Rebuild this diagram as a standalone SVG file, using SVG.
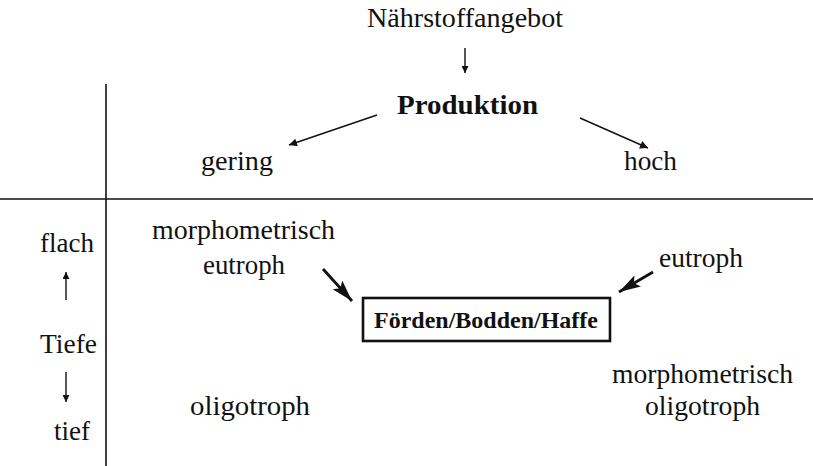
<svg xmlns="http://www.w3.org/2000/svg" width="813" height="466" viewBox="0 0 813 466">
<style>
text{font-family:"Liberation Serif","Times New Roman",serif;font-size:28px;fill:#111}
.b{font-weight:bold}
.rule{stroke:#111;stroke-width:1.6;fill:none}
.thin{stroke:#111;stroke-width:1.4;fill:none}
.thick{stroke:#111;stroke-width:2.8;fill:none}
</style>
<defs>
<marker id="ah" viewBox="0 0 10 10" refX="10" refY="5" markerWidth="11" markerHeight="8" markerUnits="userSpaceOnUse" orient="auto"><path d="M0,0 L10,5 L0,10 Z" fill="#111"/></marker>
<marker id="ahv" viewBox="0 0 10 10" refX="10" refY="5" markerWidth="12" markerHeight="7" markerUnits="userSpaceOnUse" orient="auto"><path d="M0,0 L10,5 L0,10 Z" fill="#111"/></marker>
<marker id="wedge" viewBox="0 0 20 12" refX="20" refY="6" markerWidth="24" markerHeight="13" markerUnits="userSpaceOnUse" orient="auto"><path d="M0,0 L20,6 L0,12 L4,6 Z" fill="#111"/></marker>
</defs>
<g id="axes">
<line class="rule" x1="106" y1="84" x2="106" y2="466"/>
<line class="rule" x1="0" y1="199" x2="813" y2="199"/>
</g>
<g id="connectors">
<line class="thin" x1="465" y1="48" x2="465" y2="73" marker-end="url(#ahv)"/>
<line class="thin" x1="377" y1="115" x2="289" y2="145" marker-end="url(#ah)"/>
<line class="thin" x1="580" y1="118" x2="648" y2="148" marker-end="url(#ah)"/>
<line class="thin" x1="66" y1="300" x2="66" y2="272" marker-end="url(#ahv)"/>
<line class="thin" x1="66" y1="372" x2="66" y2="402" marker-end="url(#ahv)"/>
<line class="thick" x1="323" y1="269" x2="352" y2="301" marker-end="url(#wedge)"/>
<line class="thick" x1="653" y1="272" x2="619" y2="292" marker-end="url(#wedge)"/>
</g>
<g id="naehrstoff"><text x="367" y="27" textLength="196" lengthAdjust="spacingAndGlyphs">Nährstoffangebot</text></g>
<g id="produktion"><text class="b" x="397" y="114" textLength="141" lengthAdjust="spacingAndGlyphs">Produktion</text></g>
<g id="gering"><text x="201" y="170" textLength="72" lengthAdjust="spacingAndGlyphs">gering</text></g>
<g id="hoch"><text x="624" y="170" textLength="53" lengthAdjust="spacingAndGlyphs">hoch</text></g>
<g id="flach"><text x="40" y="252" textLength="54" lengthAdjust="spacingAndGlyphs">flach</text></g>
<g id="tiefe"><text x="40" y="353" textLength="57" lengthAdjust="spacingAndGlyphs">Tiefe</text></g>
<g id="tief"><text x="54" y="440" textLength="36" lengthAdjust="spacingAndGlyphs">tief</text></g>
<g id="morph-eutroph"><text x="152" y="239" textLength="183" lengthAdjust="spacingAndGlyphs">morphometrisch</text><text x="203" y="274" textLength="82" lengthAdjust="spacingAndGlyphs">eutroph</text></g>
<g id="eutroph"><text x="659" y="267" textLength="84" lengthAdjust="spacingAndGlyphs">eutroph</text></g>
<g id="foerden"><rect x="363" y="298" width="247" height="43" fill="none" stroke="#111" stroke-width="2.6"/><text class="b" x="374" y="328" style="font-size:23px" textLength="224" lengthAdjust="spacingAndGlyphs">Förden/Bodden/Haffe</text></g>
<g id="oligotroph"><text x="190" y="415" textLength="120" lengthAdjust="spacingAndGlyphs">oligotroph</text></g>
<g id="morph-oligotroph"><text x="612" y="383" textLength="181" lengthAdjust="spacingAndGlyphs">morphometrisch</text><text x="645" y="415" textLength="115" lengthAdjust="spacingAndGlyphs">oligotroph</text></g>
</svg>
